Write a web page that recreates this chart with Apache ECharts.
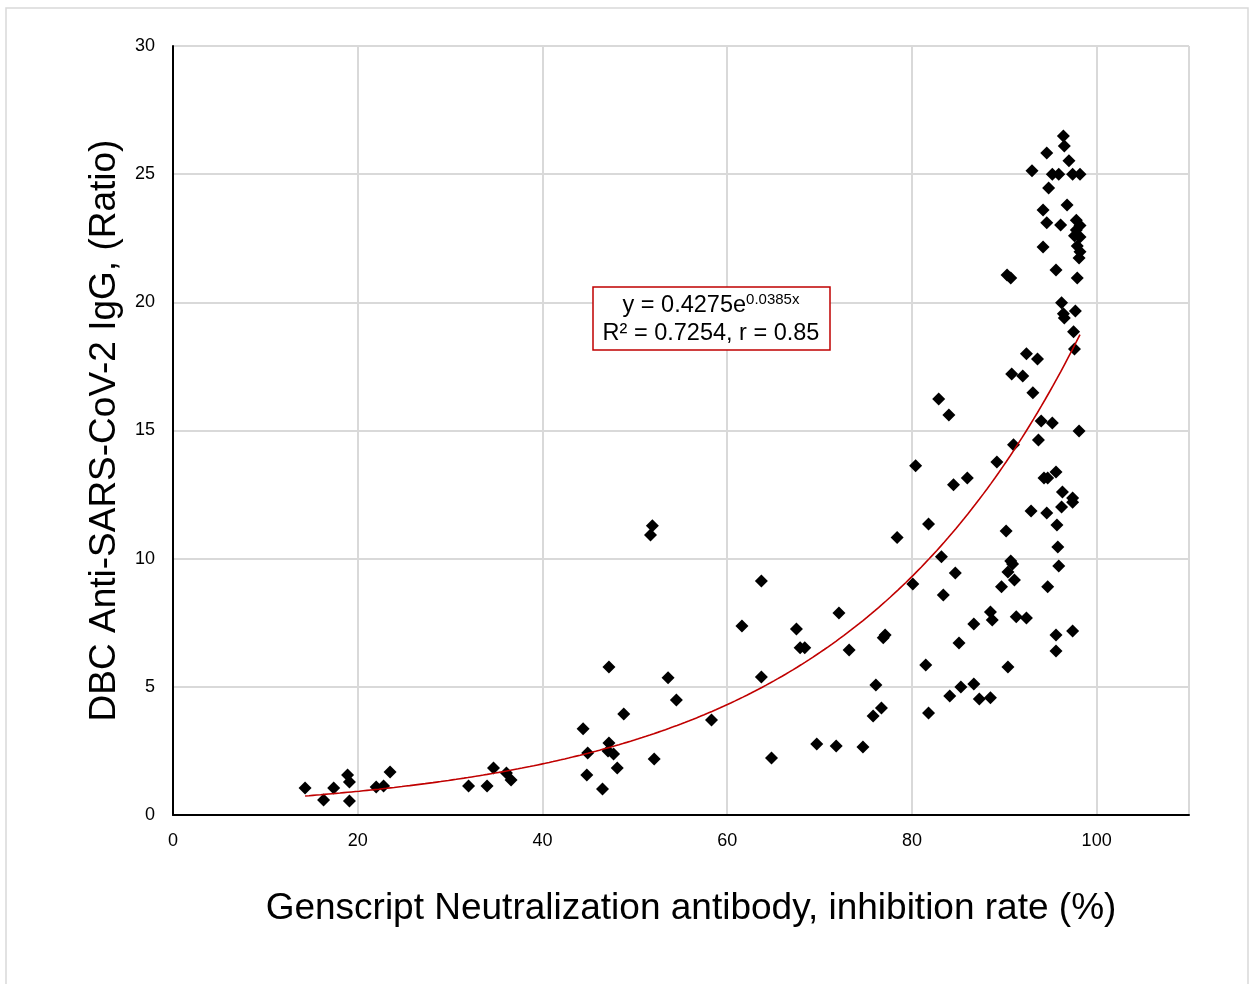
<!DOCTYPE html>
<html><head><meta charset="utf-8">
<script src="https://cdn.jsdelivr.net/npm/echarts@6/dist/echarts.min.js"></script>
<style>html,body{margin:0;padding:0;background:#fff}#c{width:1250px;height:984px}</style>
</head><body><div id="c"></div>
<script>
const xValues = [14.3,16.3,17.4,18.9,19.1,19.1,22.0,22.8,23.5,32.0,34.0,34.7,36.1,36.6,
44.4,44.9,44.8,46.5,47.2,47.2,47.1,47.7,48.1,48.8,51.7,51.9,52.1,53.6,54.5,58.3,
61.6,63.7,63.7,64.8,67.5,67.9,68.4,69.7,71.8,72.1,73.2,74.7,75.8,76.1,76.7,76.9,77.1,78.4,
80.1,80.4,81.5,81.8,81.8,82.9,83.2,83.4,84.0,84.1,84.5,84.7,85.1,85.3,86.0,86.7,86.7,87.3,
88.5,88.7,88.5,89.2,89.7,90.2,90.4,90.4,90.7,90.9,91.1,91.0,90.8,90.3,90.7,91.3,92.0,92.4,
92.4,92.9,93.0,93.1,93.6,93.7,94.0,94.2,94.2,94.3,94.6,94.6,94.6,94.7,94.7,94.8,95.2,95.2,
95.6,95.6,95.7,95.6,95.6,95.8,95.9,95.9,96.1,96.2,96.2,96.3,96.4,96.5,96.4,96.5,96.8,97.0,
97.4,97.4,97.4,97.4,97.5,97.6,97.6,97.7,97.8,97.8,97.9,97.9,98.1,98.1,98.2,98.2,98.2,98.2];
const yValues = [1.05,0.59,1.05,1.56,1.29,0.55,1.09,1.13,1.68,1.13,1.13,1.83,1.64,1.37,
3.36,2.42,1.56,1.01,5.77,2.81,2.50,2.38,1.83,3.94,10.92,11.28,2.18,5.35,4.49,3.71,
7.37,9.13,5.38,2.22,7.26,6.52,6.52,2.77,2.69,7.88,6.44,2.65,3.86,5.07,4.17,6.91,7.02,10.83,
9.01,13.62,5.85,11.35,3.98,16.23,10.07,8.58,15.6,4.64,12.88,9.44,6.71,4.99,13.15,7.45,5.11,4.53,
7.92,7.61,4.57,13.77,8.9,11.08,9.48,5.77,9.91,9.79,9.17,14.44,17.2,21.07,20.95,7.73,17.13,7.69,
17.99,11.86,25.13,16.47,17.79,14.63,15.37,23.6,22.16,13.15,25.83,23.1,11.78,13.15,8.9,24.46,25.0,15.29,
21.26,13.38,11.31,7.02,6.4,10.46,9.71,25.0,23.02,19.98,12.02,12.6,26.49,26.1,19.55,19.39,23.8,25.52,
25.0,12.37,12.2,7.18,18.85,18.18,22.6,19.66,23.2,22.82,22.2,20.95,14.98,21.73,25.0,23.0,22.55,21.97];
// Trendline as reported on the chart: y = a * e^(b x)
const fitA = 0.4275, fitB = 0.0385;
const fitLabel1 = 'y = 0.4275e';
const fitExp = '0.0385x';
const fitLabel2 = 'R² = 0.7254, r = 0.85';
const xTicks = [0,20,40,60,80,100];
const yTicks = [0,5,10,15,20,25,30];

const points = xValues.map((x,i)=>[x,yValues[i]]);
const xMin = Math.min(...xValues), xMax = Math.max(...xValues);
const fit = [];
for (let k=0;k<=200;k++){ const x = xMin + (xMax-xMin)*k/200; fit.push([x, fitA*Math.exp(fitB*x)]); }

const FONT = 'Liberation Sans, Arial, sans-serif';
const chart = echarts.init(document.getElementById('c'), null, {renderer:'canvas'});
chart.setOption({
  animation:false,
  backgroundColor:'#fff',
  grid:{left:173, top:46, right:61, bottom:169},
  xAxis:{type:'value', min:0, max:110, interval:20,
    name:'Genscript Neutralization antibody, inhibition rate (%)', nameLocation:'middle', nameGap:75,
    nameTextStyle:{fontSize:37, color:'#000', fontFamily:FONT, padding:[0,0,0,20]},
    axisLine:{show:true, onZero:false, lineStyle:{color:'#000', width:2}},
    axisTick:{show:false},
    axisLabel:{fontSize:18, color:'#000', fontFamily:FONT, margin:17,
      formatter:v=> xTicks.includes(v)? String(v) : ''},
    splitLine:{show:true, lineStyle:{color:'#d9d9d9', width:2}}},
  yAxis:{type:'value', min:0, max:30, interval:5,
    name:'DBC Anti-SARS-CoV-2 IgG, (Ratio)', nameLocation:'middle', nameGap:50,
    nameTextStyle:{fontSize:37, color:'#000', fontFamily:FONT},
    axisLine:{show:true, onZero:false, lineStyle:{color:'#000', width:2}},
    axisTick:{show:false},
    axisLabel:{fontSize:18, color:'#000', fontFamily:FONT, margin:18,
      formatter:v=> yTicks.includes(v)? String(v) : ''},
    splitLine:{show:true, lineStyle:{color:'#d9d9d9', width:2}}},
  series:[
    {type:'scatter', data:points, symbol:'diamond', symbolSize:13,
      itemStyle:{color:'#000', opacity:1}, z:3},
    {type:'line', data:fit, showSymbol:false, smooth:false,
      lineStyle:{color:'#c00000', width:1.6}, z:4}
  ],
  graphic:[
    {type:'rect', shape:{x:6, y:8, width:1242, height:1000}, style:{fill:'none', stroke:'#d9d9d9', lineWidth:1.5}, z:-10, silent:true},
    {type:'rect', shape:{x:593, y:287, width:237, height:63}, style:{fill:'#fff', stroke:'#c00000', lineWidth:1.5}, z:10},
    {type:'text', x:711, y:320, z:11, style:{
      text:'{a|'+fitLabel1+'}{s|'+fitExp+'}\n{a|'+fitLabel2+'}',
      align:'center', verticalAlign:'middle',
      rich:{a:{fontSize:23.5, fontFamily:FONT, fill:'#000', color:'#000', lineHeight:28},
            s:{fontSize:15, fontFamily:FONT, fill:'#000', color:'#000', verticalAlign:'top', lineHeight:28, padding:[0,0,14,0]}}}}
  ]
});
</script></body></html>
